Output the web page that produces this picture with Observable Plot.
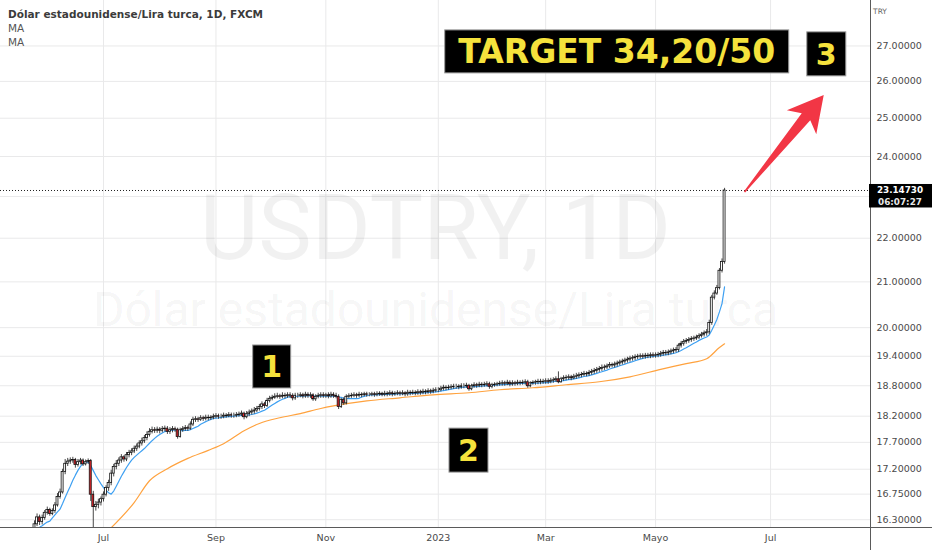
<!DOCTYPE html>
<html>
<head>
<meta charset="utf-8">
<script src="https://cdn.jsdelivr.net/npm/d3@7"></script>
<script src="https://cdn.jsdelivr.net/npm/@observablehq/plot@0.6"></script>
<style>
html, body { margin: 0; padding: 0; background: #fff; }
#chart { position: relative; width: 932px; height: 550px; overflow: hidden; background: #fff; }
#legend { position: absolute; left: 8px; top: 7px; font-family: "DejaVu Sans", sans-serif; font-size: 10.5px; line-height: 14px; color: #555; pointer-events: none; }
#legend .t { font-weight: bold; color: #3b3b3b; }
</style>
</head>
<body>
<div id="chart">
  <div id="legend"><div class="t">Dólar estadounidense/Lira turca, 1D, FXCM</div><div>MA</div><div>MA</div></div>
</div>
<script>
// ---------- DATA (daily bars, weekdays from 2022-05-23) ----------
const startDate = "2022-05-23";
const firstOpen = 15.90;
const closes = [
  15.95,16.08,16.22,16.34,16.26, 16.33,16.42,16.47,16.40,16.45, 16.55,16.70,16.78,17.15,17.30,
  17.34,17.36,17.37,17.28,17.33, 17.36,17.29,17.33,17.35,16.74, 16.52,16.56,16.60,16.66,16.74,
  16.86,16.95,17.12,17.24,17.30, 17.36,17.42,17.38,17.46,17.50, 17.53,17.58,17.62,17.68,17.72,
  17.78,17.84,17.90,17.93,17.92, 17.94,17.92,17.95,17.96,17.90, 17.93,17.95,17.94,17.80,17.93,
  17.95,17.97,17.96,18.04,18.13, 18.14,18.13,18.16,18.15,18.17, 18.16,18.17,18.19,18.20,18.19,
  18.19,18.21,18.20,18.22,18.21, 18.21,18.22,18.23,18.25,18.18, 18.24,18.27,18.29,18.31,18.34,
  18.38,18.43,18.40,18.50,18.54, 18.56,18.58,18.59,18.58,18.60, 18.59,18.61,18.60,18.55,18.60,
  18.60,18.61,18.59,18.62,18.60, 18.61,18.53,18.58,18.60,18.61, 18.60,18.61,18.59,18.62,18.60,
  18.58,18.38,18.52,18.45,18.58, 18.59,18.60,18.61,18.60,18.62, 18.61,18.63,18.62,18.62,18.63,
  18.62,18.63,18.64,18.62,18.64, 18.63,18.65,18.63,18.64,18.65, 18.64,18.65,18.63,18.66,18.65,
  18.66,18.65,18.67,18.66,18.68, 18.67,18.69,18.68,18.70,18.71, 18.71,18.74,18.76,18.75,18.76,
  18.77,18.78,18.78,18.77,18.79, 18.79,18.80,18.73,18.79,18.81, 18.80,18.82,18.81,18.82,18.83,
  18.78,18.81,18.82,18.83,18.84, 18.85,18.84,18.86,18.83,18.85, 18.84,18.86,18.85,18.86,18.87,
  18.79,18.85,18.86,18.87,18.88, 18.87,18.88,18.89,18.88,18.90, 18.91,18.93,18.87,18.93,18.95,
  18.96,18.97,18.95,18.98,18.99, 19.01,19.02,19.04,19.03,19.06, 19.08,19.10,19.12,19.14,19.16,
  19.17,19.19,19.22,19.21,19.23, 19.25,19.27,19.29,19.31,19.33, 19.35,19.36,19.38,19.39,19.40,
  19.39,19.41,19.40,19.42,19.41, 19.42,19.43,19.45,19.47,19.46, 19.48,19.50,19.52,19.53,19.62,
  19.66,19.70,19.72,19.74,19.76, 19.77,19.79,19.82,19.85,19.88, 19.90,20.10,20.65,20.74,20.86,
  21.25,21.45,23.1473
];
const highs = [
  16.02,16.12,16.28,16.40,16.38, 16.38,16.46,16.52,16.50,16.49, 16.60,16.76,16.84,17.20,17.38,
  17.40,17.41,17.42,17.40,17.38, 17.40,17.39,17.37,17.39,17.38, 16.80,16.62,16.66,16.70,16.79,
  16.90,17.00,17.18,17.29,17.36, 17.41,17.47,17.45,17.51,17.55, 17.58,17.63,17.67,17.73,17.78,
  17.83,17.90,17.96,17.99,17.98, 17.99,17.98,18.00,18.01,18.00, 17.98,18.00,17.99,17.97,17.97,
  18.00,18.02,18.01,18.09,18.18, 18.19,18.18,18.21,18.20,18.22, 18.22,18.21,18.24,18.25,18.24,
  18.24,18.26,18.25,18.27,18.26, 18.26,18.27,18.28,18.30,18.28, 18.29,18.32,18.34,18.37,18.39,
  18.43,18.48,18.47,18.55,18.59, 18.61,18.64,18.65,18.63,18.66, 18.65,18.66,18.66,18.64,18.65,
  18.65,18.66,18.65,18.67,18.66, 18.66,18.64,18.62,18.65,18.66, 18.66,18.65,18.66,18.67,18.66,
  18.65,18.62,18.55,18.56,18.62, 18.64,18.65,18.66,18.65,18.67, 18.66,18.67,18.67,18.66,18.67,
  18.67,18.68,18.68,18.67,18.69, 18.68,18.70,18.69,18.68,18.70, 18.69,18.70,18.68,18.71,18.70,
  18.71,18.70,18.72,18.71,18.73, 18.72,18.74,18.73,18.75,18.76, 18.76,18.79,18.81,18.80,18.81,
  18.82,18.83,18.83,18.82,18.84, 18.84,18.85,18.83,18.83,18.86, 18.85,18.87,18.86,18.87,18.88,
  18.87,18.85,18.86,18.87,18.89, 18.90,18.89,18.91,18.90,18.90, 18.89,18.91,18.90,18.91,18.92,
  18.91,18.88,18.90,18.91,18.93, 18.93,18.93,18.94,18.94,18.95, 18.96,18.98,19.08,18.97,19.00,
  19.01,19.02,19.01,19.03,19.05, 19.06,19.07,19.09,19.08,19.11, 19.13,19.15,19.17,19.19,19.22,
  19.22,19.24,19.27,19.26,19.28, 19.30,19.32,19.34,19.36,19.38, 19.40,19.41,19.43,19.44,19.45,
  19.45,19.46,19.46,19.47,19.47, 19.47,19.48,19.50,19.52,19.52, 19.53,19.55,19.57,19.58,19.66,
  19.71,19.75,19.77,19.79,19.81, 19.82,19.84,19.87,19.90,19.93, 19.96,20.16,20.70,20.80,20.92,
  21.30,21.52,23.20
];
const lows = [
  15.85,15.92,16.04,16.18,16.20, 16.21,16.29,16.38,16.36,16.37, 16.41,16.52,16.66,16.75,17.10,
  17.25,17.29,17.31,17.22,17.24, 17.28,17.25,17.26,17.29,16.62, 16.00,16.45,16.49,16.54,16.61,
  16.70,16.80,16.90,17.06,17.19, 17.25,17.31,17.33,17.34,17.41, 17.45,17.49,17.53,17.58,17.63,
  17.68,17.73,17.80,17.86,17.87, 17.87,17.86,17.88,17.90,17.85, 17.85,17.88,17.89,17.76,17.78,
  17.89,17.91,17.91,17.93,18.00, 18.08,18.08,18.10,18.10,18.11, 18.11,18.12,18.13,18.15,18.14,
  18.14,18.15,18.16,18.17,18.16, 18.16,18.17,18.18,18.19,18.13, 18.15,18.19,18.22,18.24,18.27,
  18.30,18.33,18.35,18.37,18.46, 18.50,18.53,18.54,18.53,18.54, 18.54,18.55,18.55,18.50,18.51,
  18.55,18.56,18.54,18.55,18.55, 18.55,18.49,18.49,18.54,18.55, 18.55,18.55,18.54,18.55,18.55,
  18.54,18.33,18.35,18.41,18.42, 18.54,18.55,18.56,18.55,18.56, 18.56,18.58,18.57,18.58,18.58,
  18.57,18.58,18.59,18.58,18.58, 18.58,18.59,18.58,18.59,18.60, 18.59,18.60,18.58,18.59,18.60,
  18.61,18.60,18.61,18.61,18.62, 18.62,18.63,18.63,18.64,18.66, 18.66,18.68,18.70,18.70,18.71,
  18.72,18.73,18.73,18.72,18.73, 18.74,18.75,18.69,18.70,18.75, 18.75,18.76,18.76,18.77,18.78,
  18.73,18.74,18.77,18.78,18.79, 18.79,18.79,18.80,18.78,18.79, 18.79,18.80,18.80,18.81,18.81,
  18.75,18.76,18.81,18.81,18.82, 18.82,18.83,18.83,18.83,18.84, 18.85,18.87,18.84,18.85,18.89,
  18.90,18.91,18.90,18.92,18.93, 18.95,18.96,18.98,18.98,18.99, 19.01,19.03,19.05,19.07,19.09,
  19.11,19.13,19.15,19.16,19.16, 19.18,19.20,19.22,19.24,19.26, 19.28,19.30,19.31,19.33,19.34,
  19.34,19.34,19.35,19.35,19.36, 19.36,19.37,19.38,19.40,19.41, 19.41,19.43,19.45,19.47,19.48,
  19.57,19.61,19.65,19.67,19.69, 19.71,19.73,19.75,19.78,19.80, 19.82,19.85,20.05,20.60,20.70,
  20.82,21.20,21.40
];
// slow moving average (orange)
const slowMaDates = ["2022-07-06","2022-07-19","2022-07-27","2022-08-05","2022-08-17","2022-08-29","2022-09-06",
  "2022-09-16","2022-09-26","2022-10-06","2022-10-18","2022-10-28","2022-11-04","2022-11-23","2022-12-12",
  "2022-12-29","2023-01-18","2023-02-03","2023-02-22","2023-03-13","2023-03-30","2023-04-17","2023-05-03",
  "2023-05-17","2023-05-29","2023-06-05","2023-06-07"];
const slowMaValues = [16.16,16.60,16.99,17.21,17.40,17.55,17.675,17.92,18.06,18.17,18.25,18.35,18.40,18.50,18.56,
  18.62,18.66,18.72,18.76,18.82,18.88,18.98,19.13,19.25,19.35,19.58,19.66];
const fastMaLength = 9;

// axes
const monthTickDates = ["2022-07-01","2022-09-01","2022-11-01","2023-01-01","2023-03-01","2023-05-01","2023-07-01"];
const monthTickLabels = ["Jul","Sep","Nov","2023","Mar","Mayo","Jul"];
const priceTicks = [16.3,16.75,17.2,17.7,18.2,18.8,19.4,20,21,22,23,24,25,26,27];
const lastPriceLabel = "23.14730";
const countdownLabel = "06:07:27";

// annotations
const noteLabels = ["TARGET 34,20/50","3","1","2"];
const noteDates = ["2023-04-10","2023-08-02","2022-10-03","2023-01-18"];
const notePrices = [26.83, 26.76, 19.18, 17.545];
const arrowDates = ["2023-06-19","2023-08-01"];
const arrowPrices = [23.10, 25.61];

// ---------- BUILD ----------
function weekdayCalendar(start, n) {
  const out = [];
  let t = Date.parse(start + "T00:00:00Z");
  while (out.length < n) {
    const d = new Date(t);
    const wd = d.getUTCDay();
    if (wd !== 0 && wd !== 6) out.push(d);
    t += 864e5;
  }
  return out;
}
const calendar = weekdayCalendar(startDate, 360);
function barIndex(dateStr) {
  const t = Date.parse(dateStr + "T00:00:00Z");
  return calendar.findIndex(d => d.getTime() >= t);
}

const bars = closes.map((c, i) => ({
  i,
  date: calendar[i],
  open: i === 0 ? firstOpen : closes[i - 1],
  close: c,
  high: highs[i],
  low: lows[i]
}));
const slowMa = slowMaDates.map((d, k) => ({i: barIndex(d), v: slowMaValues[k]}));
const tickIdx = monthTickDates.map(barIndex);
const tickLabelOf = new Map(tickIdx.map((t, k) => [t, monthTickLabels[k]]));
const lastClose = closes[closes.length - 1];

const xDomain = [barIndex("2022-07-01") - 40.3, barIndex("2022-07-01") + 300.1];

const plot = Plot.plot({
  width: 932,
  height: 550,
  marginLeft: 0,
  marginRight: 62,
  marginTop: 0,
  marginBottom: 23,
  style: {fontFamily: '"DejaVu Sans", sans-serif', fontSize: "9.5px", color: "#4a4a4a", background: "transparent", overflow: "visible"},
  x: {type: "linear", domain: xDomain, ticks: tickIdx, tickFormat: d => tickLabelOf.get(d) ?? "", tickSize: 0, tickPadding: 7, label: null},
  y: {type: "log", domain: [16.165, 28.34], ticks: priceTicks, tickFormat: d => d === 23 ? "" : d.toFixed(5), axis: "right", tickSize: 0, tickPadding: 6, label: null},
  marks: [
    Plot.ruleY(priceTicks, {stroke: "#e9e9ea", strokeWidth: 1}),
    Plot.ruleX(tickIdx, {stroke: "#e9e9ea", strokeWidth: 1}),
    Plot.text(["USDTRY, 1D"], {text: d => d, frameAnchor: "middle", dy: -34, fontSize: 90, fontFamily: "Roboto", fill: "#000", fillOpacity: 0.055}),
    Plot.text(["Dólar estadounidense/Lira turca"], {text: d => d, frameAnchor: "middle", dy: 46.5, fontSize: 48, fontFamily: "Roboto", fill: "#000", fillOpacity: 0.055}),
    Plot.line(slowMa, {x: "i", y: "v", stroke: "#ffa23e", strokeWidth: 1.2, curve: "monotone-x", clip: true}),
    Plot.lineY(bars, Plot.windowY({k: fastMaLength, anchor: "end"}, {x: "i", y: "close", stroke: "#3ea0f2", strokeWidth: 1.2, clip: true})),
    Plot.ruleX(bars, {x: "i", y1: "low", y2: "high", stroke: "#333", strokeWidth: 0.9, clip: true}),
    Plot.rect(bars, {
      x1: d => d.i - 0.38, x2: d => d.i + 0.38,
      y1: "open", y2: "close",
      fill: d => d.close >= d.open ? "#ffffff" : "#e8262c",
      stroke: "#111", strokeWidth: 0.8, clip: true
    }),
    Plot.ruleY([lastClose], {stroke: "#222", strokeWidth: 1, strokeDasharray: "1,2"})
  ]
});

document.getElementById("chart").insertBefore(plot, document.getElementById("legend"));
plot.style.position = "absolute";
plot.style.left = "0px";
plot.style.top = "0px";

const sx = plot.scale("x"), sy = plot.scale("y");
const svg = d3.select(plot);
const frameRight = 932 - 62, frameBottom = 550 - 23;

// axis lines
svg.append("line").attr("x1", frameRight + 0.5).attr("x2", frameRight + 0.5).attr("y1", 0).attr("y2", 550)
  .attr("stroke", "#5a5a5a").attr("stroke-width", 1);
svg.append("line").attr("x1", 0).attr("x2", 932).attr("y1", frameBottom + 0.5).attr("y2", frameBottom + 0.5)
  .attr("stroke", "#5a5a5a").attr("stroke-width", 1);

// currency label
svg.append("text").attr("x", 880).attr("y", 14).text("TRY")
  .attr("font-family", '"DejaVu Sans", sans-serif').attr("font-size", 7.5).attr("fill", "#666");

// last price label
const py = sy.apply(lastClose);
svg.append("rect").attr("x", frameRight - 1).attr("y", py - 6).attr("width", 932 - frameRight + 1).attr("height", 23.5).attr("fill", "#000");
svg.append("text").attr("x", 900).attr("y", py + 3.3).attr("text-anchor", "middle").text(lastPriceLabel)
  .attr("font-family", '"DejaVu Sans", sans-serif').attr("font-weight", "bold").attr("font-size", 8.8).attr("fill", "#fff");
svg.append("text").attr("x", 900).attr("y", py + 14.8).attr("text-anchor", "middle").text(countdownLabel)
  .attr("font-family", '"DejaVu Sans", sans-serif').attr("font-weight", "bold").attr("font-size", 8.8).attr("fill", "#e8e8e8");

// red arrow
{
  const tx = sx.apply(barIndex(arrowDates[0])), ty = sy.apply(arrowPrices[0]);
  const hx = sx.apply(barIndex(arrowDates[1])), hy = sy.apply(arrowPrices[1]);
  const L = Math.hypot(hx - tx, hy - ty);
  const ux = (hx - tx) / L, uy = (hy - ty) / L;
  const nx = -uy, ny = ux;
  const P = (s, w) => [tx + ux * s + nx * w, ty + uy * s + ny * w];
  const pts = [P(0, -0.8), P(L - 28, -5.5), P(L - 35, -19), P(L, 0), P(L - 35, 19), P(L - 28, 5.5), P(0, 0.8)];
  svg.append("polygon").attr("points", pts.map(p => p.join(",")).join(" ")).attr("fill", "#f23645");
}

// annotation boxes
const boxW = [344, 39, 38, 39], boxH = [43, 44, 43, 44], boxFont = [33, 30, 30, 30];
noteLabels.forEach((label, k) => {
  const cx = sx.apply(barIndex(noteDates[k])), cy = sy.apply(notePrices[k]);
  svg.append("rect").attr("x", cx - boxW[k] / 2).attr("y", cy - boxH[k] / 2).attr("width", boxW[k]).attr("height", boxH[k])
    .attr("fill", "#000").attr("stroke", "#9a9a9a").attr("stroke-width", 1);
  svg.append("text").attr("x", cx).attr("y", cy + 0.365 * boxFont[k]).attr("text-anchor", "middle").text(label)
    .attr("font-family", '"DejaVu Sans", sans-serif').attr("font-weight", "bold").attr("font-size", boxFont[k])
    .attr("fill", "#f5e23c");
});
</script>
</body>
</html>
